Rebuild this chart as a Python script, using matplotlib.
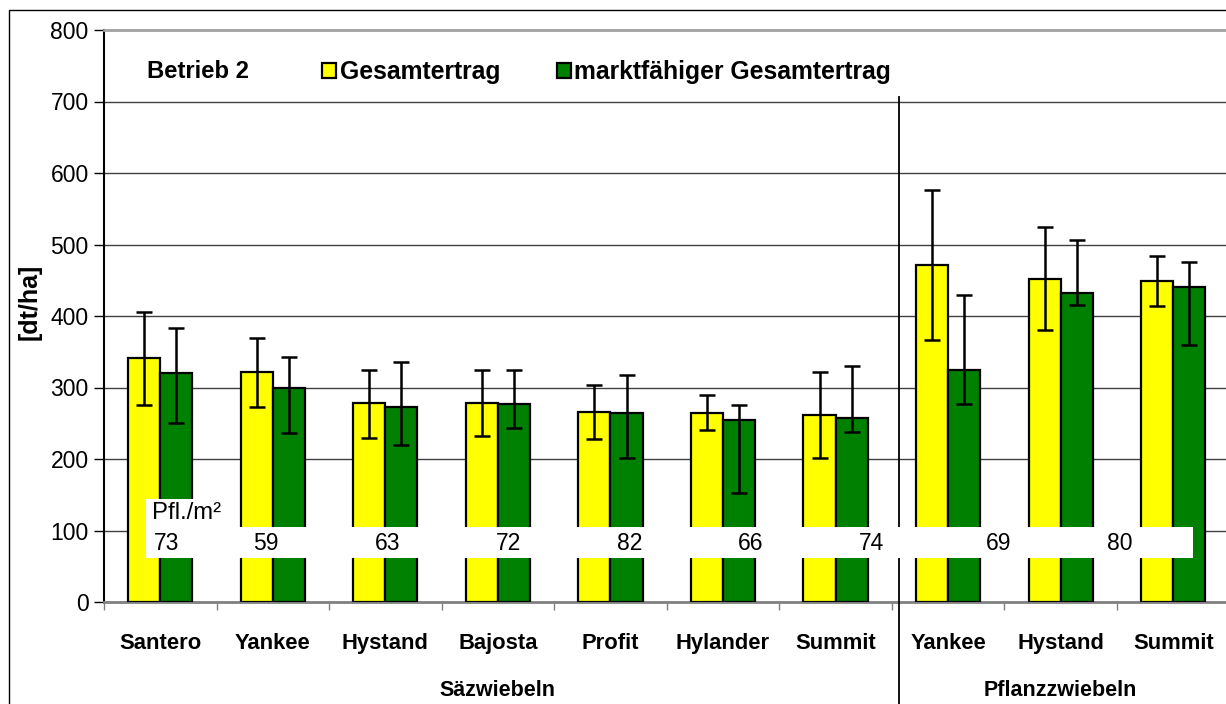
import numpy as np
import matplotlib
matplotlib.use('Agg')
import matplotlib.pyplot as plt
from matplotlib.patches import Rectangle
from matplotlib.lines import Line2D

plt.rcParams['font.family'] = ['Liberation Sans', 'DejaVu Sans']

# data
cats = ['Santero', 'Yankee', 'Hystand', 'Bajosta', 'Profit', 'Hylander', 'Summit',
        'Yankee', 'Hystand', 'Summit']
groups = ['Säzwiebeln', 'Pflanzzwiebeln']
group_sizes = [7, 3]
gesamt = [341, 321, 278, 278, 266, 265, 262, 471, 452, 449]
gesamt_lo = [276, 273, 230, 232, 228, 240, 202, 367, 380, 414]
gesamt_hi = [405, 369, 325, 324, 304, 290, 322, 576, 524, 484]
markt = [320, 299, 273, 277, 264, 255, 258, 324, 432, 440]
markt_lo = [251, 237, 220, 244, 202, 152, 238, 277, 416, 360]
markt_hi = [383, 343, 336, 325, 318, 276, 330, 430, 506, 475]
pflanzen = [73, 59, 63, 72, 82, 66, 74, 69, 80]
yticks = [0, 100, 200, 300, 400, 500, 600, 700, 800]

W, H = 1226, 704


def fx(x):
    return x / W


def fy(y):
    return 1 - y / H


fig = plt.figure(figsize=(W / 100, H / 100), dpi=100)
ax = fig.add_axes([fx(104), fy(602), fx(1229.5) - fx(104), fy(30) - fy(602)])

x = np.arange(len(cats))
bw = 0.285
g = np.array(gesamt)
m = np.array(markt)
err_g = [g - np.array(gesamt_lo), np.array(gesamt_hi) - g]
err_m = [m - np.array(markt_lo), np.array(markt_hi) - m]

ax.bar(x - bw / 2, g, bw, color='#ffff00', edgecolor='black', linewidth=1.6, zorder=3,
       label='Gesamtertrag')
ax.bar(x + bw / 2, m, bw, color='#008000', edgecolor='black', linewidth=1.6, zorder=3,
       label='marktfähiger Gesamtertrag')
ax.errorbar(x - bw / 2, g, yerr=err_g, fmt='none', ecolor='black', elinewidth=1.8,
            capsize=5.8, capthick=1.8, zorder=4)
ax.errorbar(x + bw / 2, m, yerr=err_m, fmt='none', ecolor='black', elinewidth=1.8,
            capsize=5.8, capthick=1.8, zorder=4)

ax.set_xlim(-0.5, len(cats) - 0.5)
ax.set_ylim(0, 800)
ax.set_yticks(yticks)
ax.set_yticklabels([str(t) for t in yticks], fontsize=16.5)
for t in yticks[1:-1]:
    ax.axhline(t, color='#404040', linewidth=1, zorder=1)

ax.set_xticks(np.arange(len(cats) + 1) - 0.5)
ax.set_xticklabels([])
ax.tick_params(axis='x', direction='out', length=6, color='#808080', width=1)
ax.tick_params(axis='y', direction='out', length=7, color='black', width=1, pad=4)
for i, c in enumerate(cats):
    ax.text(i, -0.072, c, transform=ax.get_xaxis_transform(), ha='center', va='center',
            fontsize=15.8, fontweight='bold')
start = 0
for name, n in zip(groups, group_sizes):
    ax.text(start + n / 2 - 0.5, -0.154, name, transform=ax.get_xaxis_transform(),
            ha='center', va='center', fontsize=15.5, fontweight='bold')
    start += n

ax.spines['left'].set_color('black')
ax.spines['left'].set_linewidth(1.5)
ax.spines['bottom'].set_color('#808080')
ax.spines['bottom'].set_linewidth(2)
ax.spines['top'].set_color('#a0a0a0')
ax.spines['top'].set_linewidth(2)
ax.spines['right'].set_visible(False)

fig.text(fx(30), fy(302), '[dt/ha]', rotation=90, ha='center', va='center',
         fontsize=18, fontweight='bold')

# outer frame
fig.patches.append(Rectangle((fx(9), -0.1), 1.2, fy(10) + 0.1, transform=fig.transFigure,
                             fill=False, edgecolor='black', linewidth=1, zorder=0))
# separator between groups
fig.lines.append(Line2D([fx(899), fx(899)], [fy(97), 0], transform=fig.transFigure,
                        color='black', linewidth=1.3))

# legend
fig.text(fx(147), fy(72), 'Betrieb 2', ha='left', va='center', fontsize=17.2,
         fontweight='bold')
leg = fig.legend(loc='center left', bbox_to_anchor=(fx(300), fy(72)), ncol=2,
                 frameon=False, handlelength=0.55, handleheight=0.55, handletextpad=0.15,
                 columnspacing=2.3, prop={'size': 17.8, 'weight': 'bold'})

# Pfl./m² box
fig.patches.append(Rectangle((fx(146), fy(558)), fx(1193) - fx(146), fy(527) - fy(558),
                             transform=fig.transFigure, facecolor='white',
                             edgecolor='none', zorder=5))
fig.patches.append(Rectangle((fx(146), fy(527)), fx(236) - fx(146), fy(499) - fy(527),
                             transform=fig.transFigure, facecolor='white',
                             edgecolor='none', zorder=5))
fig.text(fx(152), fy(513), 'Pfl./m²', ha='left', va='center', fontsize=17.2, zorder=6)
right_edges = [179, 279, 400, 521, 642, 763, 884, 1011, 1132]
for v, r in zip(pflanzen, right_edges):
    fig.text(fx(r), fy(544), str(v), ha='right', va='center', fontsize=16.5, zorder=6)

fig.savefig('out.png', dpi=100)
